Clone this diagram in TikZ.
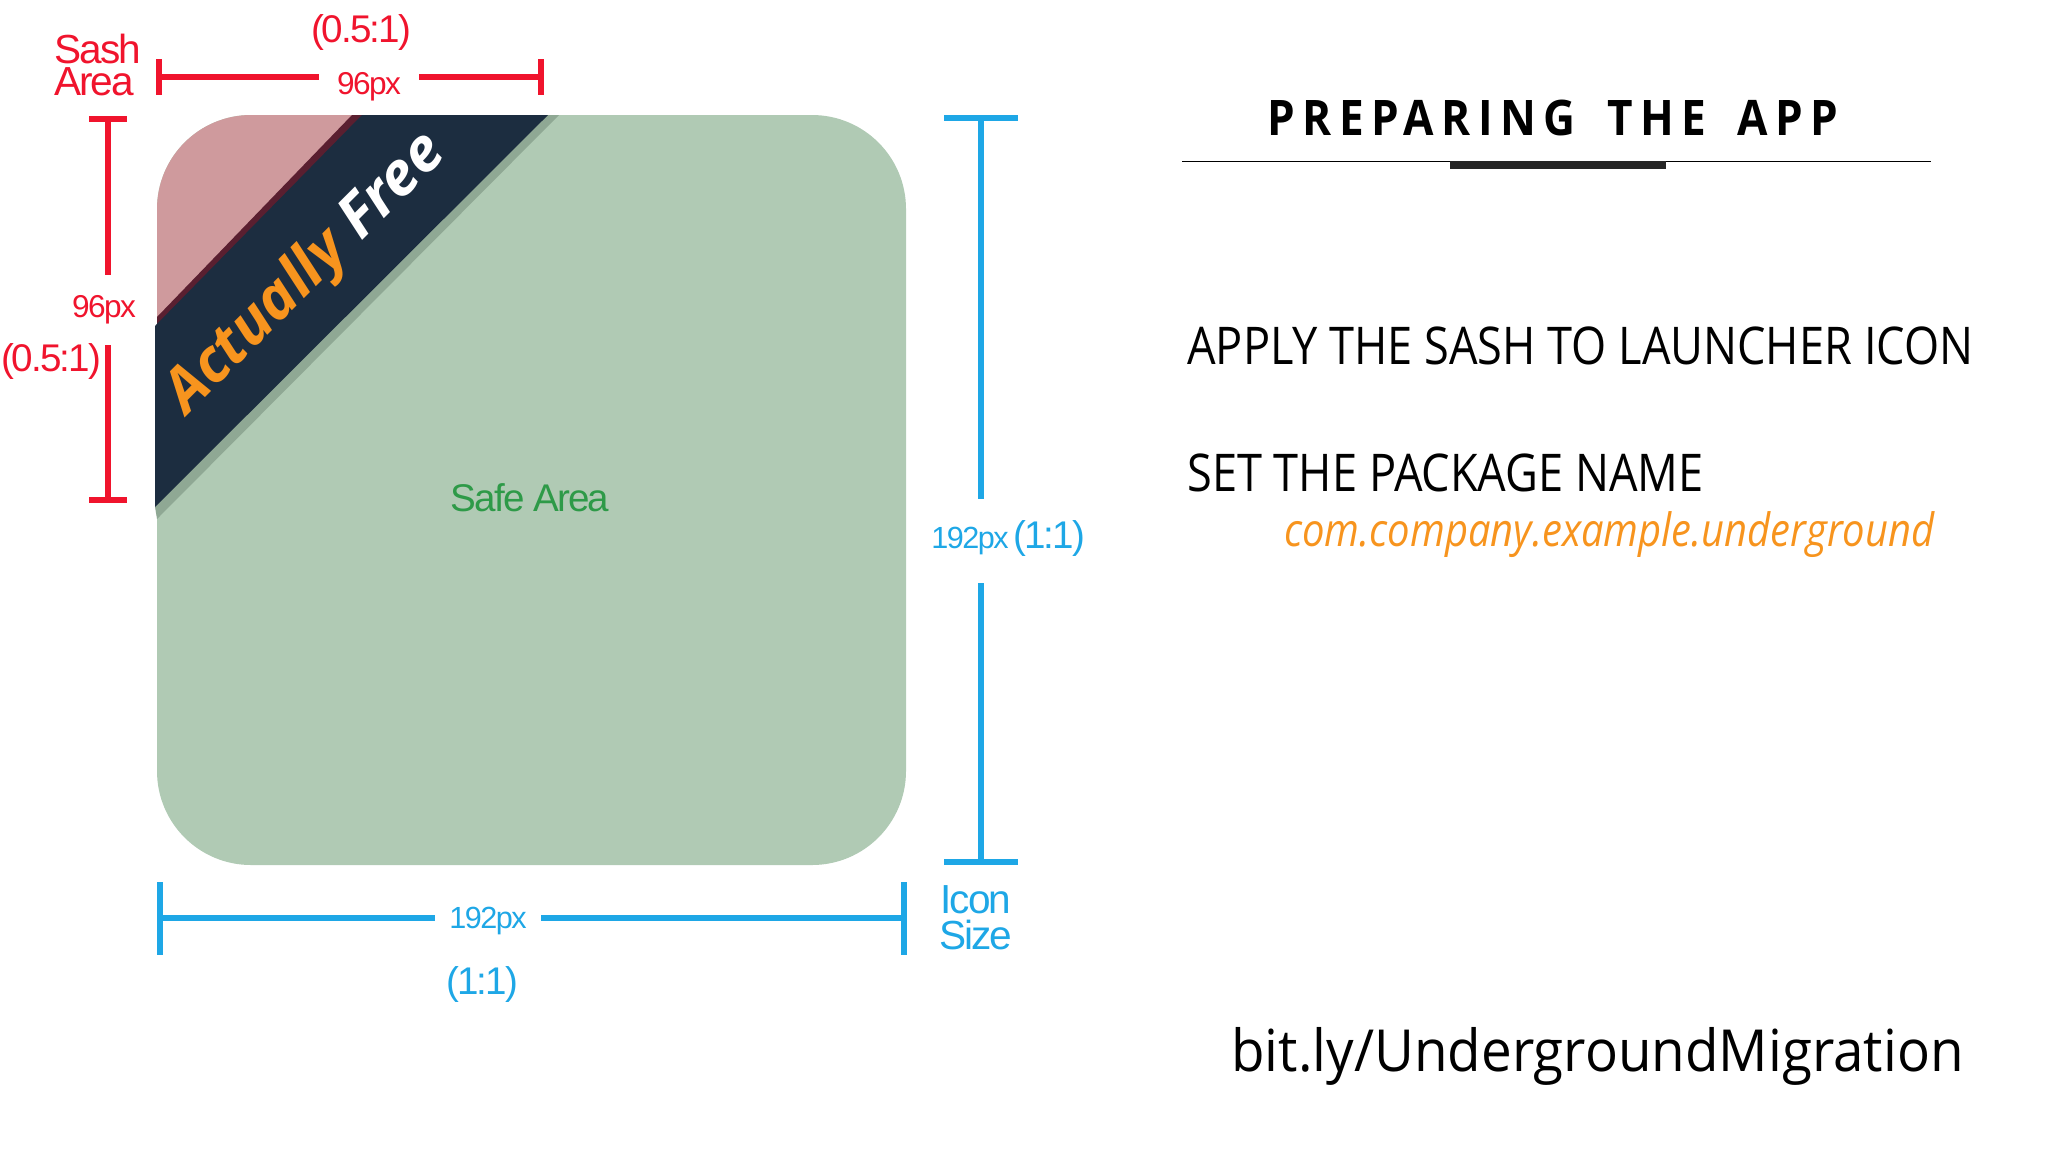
\documentclass[tikz,border=0pt]{standalone}
\usepackage{fontspec}
\usepackage{tikz}
\setmainfont{Open Sans}
\newfontfamily\dimfont[LetterSpace=-5]{Liberation Sans}
\newfontfamily\titlefont[LetterSpace=15,WordSpace=1.7,FakeStretch=0.9]{Open Sans}
\newfontfamily\stepfont[FakeStretch=0.868]{Open Sans}
\newfontfamily\linkfont[FakeStretch=0.944]{Open Sans}
\definecolor{dimred}{HTML}{F0142D}
\definecolor{dimblue}{HTML}{1EA7E6}
\definecolor{safegreen}{HTML}{B0CAB4}
\definecolor{safetext}{HTML}{2E9A48}
\definecolor{sashpink}{HTML}{CF9A9D}
\definecolor{sashnavy}{HTML}{1C2D40}
\definecolor{sashedge}{HTML}{5A1F30}
\definecolor{sashshadow}{HTML}{8FA894}
\definecolor{accent}{HTML}{F7941E}
\tikzset{
  redline/.style={draw=dimred,line width=2.6pt},
  blueline/.style={draw=dimblue,line width=2.6pt},
  redlabel/.style={text=dimred,font=\dimfont\fontsize{#1}{#1}\selectfont,inner sep=0pt},
  bluelabel/.style={text=dimblue,font=\dimfont\fontsize{#1}{#1}\selectfont,inner sep=0pt},
  steplabel/.style={anchor=base west,inner sep=0pt,font=\stepfont\fontsize{26}{26}\selectfont}
}

\begin{document}
\begin{tikzpicture}[x=0.5pt,y=-0.5pt]
    \useasboundingbox (0,0) rectangle (2048,1152);
    % icon
    \fill[safegreen,rounded corners=47pt] (157,115) rectangle (906,865);
    \begin{scope}
      \clip[rounded corners=47pt] (157,115) rectangle (906,865);
      \fill[sashpink] (157,115) -- (356,115) -- (157,320) -- cycle;
    \end{scope}
    \fill[sashedge] (352,115) -- (364,115) -- (157,326) -- (157,317) -- cycle;
    \fill[sashshadow] (540,115) -- (559,115) -- (157,519) -- (155,507) -- cycle;
    \fill[sashnavy] (362,115) -- (548,115) -- (155,507) -- (155,326) -- cycle;
    \node[rotate=45,inner sep=0pt,font=\fontsize{30}{30}\selectfont\bfseries\itshape] (sash) at (307,274)
      {\textcolor{accent}{Actually} \textcolor{white}{Free}};
    \node[text=safetext,font=\dimfont\fontsize{19.3}{19.3}\selectfont,inner sep=0pt] (safe) at (530,498) {Safe Area};

    % sash dimensions
    \coordinate (sw1) at (159,77);
    \coordinate (sw2) at (541,77);
    \coordinate (sh1) at (108,119);
    \coordinate (sh2) at (108,500);
    \node[redlabel=15.8,inner xsep=9pt] (swl) at (369,87) {96px};
    \node[redlabel=15.8,minimum height=34.5pt] (shl) at (104,310) {96px};
    \node[redlabel=19.3] (swr) at (361,33) {(0.5:1)};
    \node[redlabel=19.3] (shr) at (51,362) {(0.5:1)};
    \node[redlabel=20.3] (sasha) at (98,49) {Sash};
    \node[redlabel=20.3] (sashb) at (94,82) {Area};
    \draw[redline] (sw1) -- (sw1 -| swl.west);
    \draw[redline] (sw2) -- (sw2 -| swl.east);
    \draw[redline] (sh1) -- (sh1 |- shl.north);
    \draw[redline] (sh2) -- (sh2 |- shl.south);
    \draw[redline] (sw1) ++(0,-18) -- ++(0,36);
    \draw[redline] (sw2) ++(0,-18) -- ++(0,36);
    \draw[redline] (sh1) ++(-19,0) -- ++(38,0);
    \draw[redline] (sh2) ++(-19,0) -- ++(38,0);

    % icon dimensions
    \coordinate (iw1) at (160,918);
    \coordinate (iw2) at (904,918);
    \coordinate (ih1) at (981,118);
    \coordinate (ih2) at (981,862);
    \node[bluelabel=15.3,inner xsep=7pt] (iwl) at (488,921) {192px};
    \node[bluelabel=15.3,minimum height=42pt] (ihl) at (970,541) {\raisebox{3pt}{192px}};
    \node[bluelabel=19.3] (iwr) at (482,984) {(1:1)};
    \node[bluelabel=19.3] (ihr) at (1049,538) {(1:1)};
    \node[bluelabel=20.3] (icona) at (976,900) {Icon};
    \node[bluelabel=20.3] (iconb) at (976,935) {Size};
    \draw[blueline] (iw1) -- (iw1 -| iwl.west);
    \draw[blueline] (iw2) -- (iw2 -| iwl.east);
    \draw[blueline] (ih1) -- (ih1 |- ihl.north);
    \draw[blueline] (ih2) -- (ih2 |- ihl.south);
    \draw[blueline] (iw1) ++(0,-36) -- ++(0,73);
    \draw[blueline] (iw2) ++(0,-36) -- ++(0,73);
    \draw[blueline] (ih1) ++(-37,0) -- ++(74,0);
    \draw[blueline] (ih2) ++(-37,0) -- ++(74,0);

    % text column
    \node[inner sep=0pt,font=\titlefont\bfseries\fontsize{24.5}{24.5}\selectfont] (title) at (1553,118) {PREPARING THE APP};
    \coordinate (rule1) at (1182,161.5);
    \coordinate (rule2) at (1931,161.5);
    \draw[line width=0.9pt,draw=black] (rule1) -- (rule2);
    \fill[black!85] (1450,161) rectangle (1666,169);
    \node[steplabel] (stepa) at (1187,364) {APPLY THE SASH TO LAUNCHER ICON};
    \node[steplabel] (stepb) at (1187,491) {SET THE PACKAGE NAME};
    \node[steplabel,text=accent,font=\stepfont\itshape\fontsize{23}{23}\selectfont] (pkg) at (1284,546) {com.company.example.underground};
    \node[anchor=base west,inner sep=0pt,font=\linkfont\fontsize{29}{29}\selectfont] (link) at (1231,1071) {bit.ly/UndergroundMigration};
\end{tikzpicture}
\end{document}
